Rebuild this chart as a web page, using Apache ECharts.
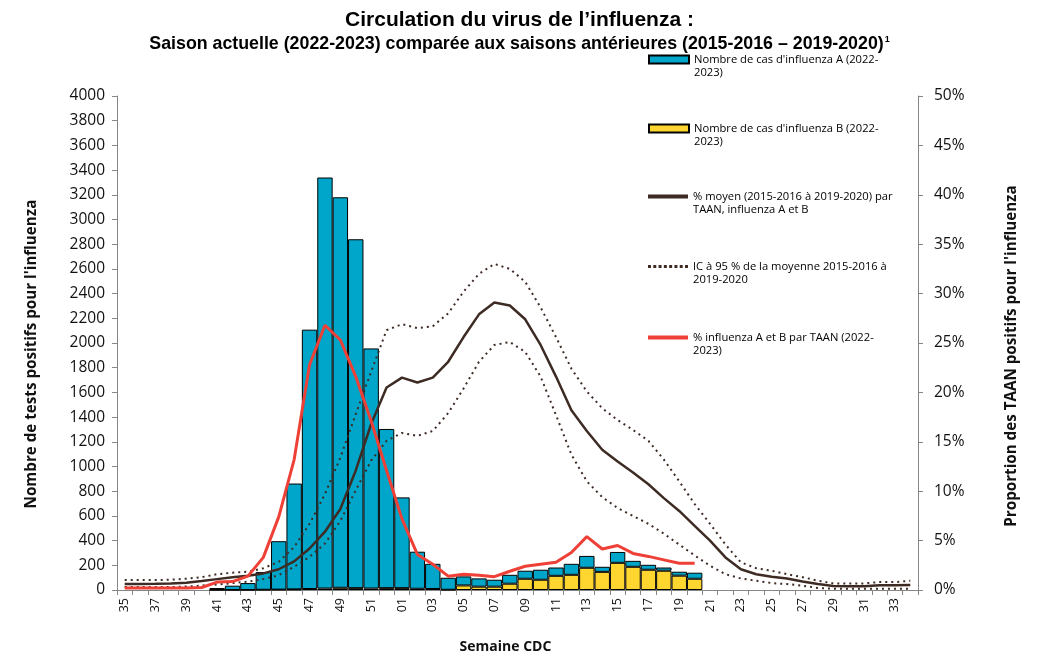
<!DOCTYPE html>
<html>
<head>
<meta charset="utf-8">
<script src="https://cdn.jsdelivr.net/npm/echarts@6/dist/echarts.min.js"></script>
<style>
html,body{margin:0;padding:0;background:#fff;}
#c{width:1039px;height:659px;}
</style>
</head>
<body>
<div id="c"></div>
<script>
// Weeks (CDC)
const weeks = ['35','36','37','38','39','40','41','42','43','44','45','46','47','48','49','50','51','52',
  '01','02','03','04','05','06','07','08','09','10','11','12','13','14','15','16','17','18','19','20',
  '21','22','23','24','25','26','27','28','29','30','31','32','33','34'];

// Influenza B cases (2022-2023)
const casesB = [null,null,null,null,null,null,0,0,0,2,3,5,8,12,18,15,12,15,
  15,10,8,2,37,27,27,51,91,83,115,123,180,147,220,188,164,156,116,91,
  null,null,null,null,null,null,null,null,null,null,null,null,null,null];

// Influenza A cases (2022-2023)
const casesA = [null,null,null,null,null,null,16,35,56,143,392,857,2100,3328,3162,2825,1944,1289,
  735,300,204,97,73,67,56,72,65,81,67,89,96,41,88,48,40,26,32,49,
  null,null,null,null,null,null,null,null,null,null,null,null,null,null];

// Mean % positive 2015-2016 to 2019-2020
const meanPct = [0.6,0.6,0.62,0.65,0.74,0.9,1.1,1.3,1.45,1.68,2.1,2.9,4.2,5.9,8.2,12.1,16.8,20.5,
  21.5,21.0,21.5,23.1,25.6,27.9,29.1,28.8,27.4,24.8,21.6,18.2,16.1,14.2,13.0,11.9,10.7,9.3,8.0,6.5,
  5.0,3.3,2.1,1.6,1.35,1.17,0.87,0.6,0.4,0.37,0.37,0.47,0.47,0.5];

// 95% CI upper
const ciUpper = [1.0,1.0,1.0,1.05,1.15,1.3,1.6,1.75,1.85,2.2,2.85,4.35,6.7,9.7,13.4,17.8,22.1,26.3,
  26.9,26.5,26.7,28.0,30.2,32.0,33.0,32.5,31.2,28.6,25.6,22.4,20.1,18.4,17.2,16.2,15.1,13.2,11.0,8.7,
  6.7,4.6,2.8,2.2,1.95,1.6,1.3,0.94,0.67,0.67,0.67,0.8,0.8,0.94];

// 95% CI lower
const ciLower = [0.3,0.3,0.3,0.3,0.35,0.45,0.55,0.7,0.85,1.1,1.5,2.35,3.35,4.7,7.0,10.1,13.1,15.1,
  15.9,15.6,16.1,17.9,20.4,23.1,24.8,25.1,24.1,21.6,17.7,13.7,11.0,9.4,8.3,7.5,6.7,5.7,4.6,3.5,
  2.45,1.6,1.17,0.94,0.7,0.6,0.44,0.2,0.13,0.13,0.13,0.13,0.13,0.13];

// % positive influenza A and B (2022-2023)
const currentPct = [0.2,0.2,0.2,0.2,0.2,0.25,0.8,0.85,1.4,3.3,7.4,13.2,22.8,26.8,25.3,21.6,17.1,12.1,
  7.2,3.6,2.6,1.4,1.6,1.5,1.35,1.9,2.4,2.6,2.8,3.8,5.4,4.15,4.5,3.7,3.4,3.05,2.7,2.7,
  null,null,null,null,null,null,null,null,null,null,null,null,null,null];

const nameA = "Nombre de cas d'influenza A (2022-2023)";
const nameB = "Nombre de cas d'influenza B (2022-2023)";
const nameMean = "% moyen (2015-2016 à 2019-2020) par TAAN, influenza A et B";
const nameCI = "IC à 95 % de la moyenne 2015-2016 à 2019-2020";
const nameCur = "% influenza A et B par TAAN (2022-2023)";
const legendText = {};
legendText[nameA] = "Nombre de cas d'influenza A (2022-\n2023)";
legendText[nameB] = "Nombre de cas d'influenza B (2022-\n2023)";
legendText[nameMean] = "% moyen (2015-2016 à 2019-2020) par\nTAAN, influenza A et B";
legendText[nameCI] = "IC à 95 % de la moyenne 2015-2016 à\n2019-2020";
legendText[nameCur] = "% influenza A et B par TAAN (2022-\n2023)";

const FONT = 'Open Sans';
const BROWN = '#3d2b24';
const BLUE = '#00a6c9';
const YELLOW = '#ffd530';
const RED = '#ee4037';

const solidIcon = 'path://M0,0L40,0L40,4L0,4Z';
let dotPath = 'path://';
for (let i = 0; i < 8; i++) {
  const x0 = (i * 5.3).toFixed(1);
  dotPath += 'M' + x0 + ',0h3v3h-3z';
}

function mkLegend(item, iconH, top) {
  return {
    data: [item],
    left: 648,
    top: top,
    padding: 0,
    orient: 'vertical',
    itemWidth: 40,
    itemHeight: iconH,
    selectedMode: false,
    // leading empty line so that the first text line sits level with the icon
    formatter: function (n) { return ' \n' + legendText[n]; },
    textStyle: { fontFamily: FONT, fontSize: 11.2, color: '#000', lineHeight: 13 }
  };
}

const chart = echarts.init(document.getElementById('c'), null, { renderer: 'canvas' });
chart.setOption({
  animation: false,
  backgroundColor: '#fff',
  title: {
    text: 'Circulation du virus de l’influenza :',
    subtext: 'Saison actuelle (2022-2023) comparée aux saisons antérieures (2015-2016 – 2019-2020){s|1}',
    left: 'center',
    top: 5,
    itemGap: 4,
    textStyle: { fontFamily: 'Liberation Sans', fontWeight: 'bold', fontSize: 21, color: '#000' },
    subtextStyle: {
      fontFamily: 'Liberation Sans', fontWeight: 'bold', fontSize: 17.8, color: '#000',
      rich: { s: { fontFamily: 'Liberation Sans', fontSize: 9, color: '#000', padding: [0, 0, 8, 1] } }
    }
  },
  legend: [
    mkLegend({ name: nameA, icon: 'rect' }, 8, 40),
    mkLegend({ name: nameB, icon: 'rect' }, 8, 109),
    mkLegend({ name: nameMean, icon: solidIcon, itemStyle: { color: BROWN, borderWidth: 0 } }, 4, 177),
    mkLegend({ name: nameCI, icon: dotPath, itemStyle: { color: BROWN, borderWidth: 0 } }, 3, 247),
    mkLegend({ name: nameCur, icon: solidIcon, itemStyle: { color: RED, borderWidth: 0 } }, 4, 318)
  ],
  grid: { left: 117, right: 121, top: 96, bottom: 66, containLabel: false },
  xAxis: {
    type: 'category',
    data: weeks,
    boundaryGap: true,
    name: 'Semaine CDC',
    nameLocation: 'middle',
    nameGap: 50,
    nameTextStyle: { fontFamily: FONT, fontWeight: 'bold', fontSize: 14, color: '#111', padding: [0, 24, 0, 0] },
    axisLine: { lineStyle: { color: '#868686', width: 1 } },
    axisTick: { show: true, interval: 0, length: 5, lineStyle: { color: '#868686' } },
    axisLabel: { interval: 1, rotate: 90, fontFamily: FONT, fontSize: 12.5, color: '#111', margin: 8 },
    splitLine: { show: false }
  },
  yAxis: [
    {
      type: 'value', min: 0, max: 4000, interval: 200,
      name: "Nombre de tests positifs pour l'influenza",
      nameLocation: 'middle', nameRotate: 90, nameGap: 78,
      nameTextStyle: { fontFamily: FONT, fontWeight: 'bold', fontSize: 15.2, color: '#111', padding: [0, 22, 0, 0] },
      axisLine: { show: true, lineStyle: { color: '#868686' } },
      axisTick: { show: true, length: 5, lineStyle: { color: '#868686' } },
      axisLabel: { fontFamily: FONT, fontSize: 15.5, color: '#111', margin: 12, formatter: function (v) { return String(v); } },
      splitLine: { show: false }
    },
    {
      type: 'value', min: 0, max: 50, interval: 5,
      name: "Proportion des TAAN positifs pour l'influenza",
      nameLocation: 'middle', nameRotate: 90, nameGap: 86,
      nameTextStyle: { fontFamily: FONT, fontWeight: 'bold', fontSize: 15.2, color: '#111', padding: [0, 26, 0, 0] },
      axisLine: { show: true, lineStyle: { color: '#868686' } },
      axisTick: { show: true, length: 5, lineStyle: { color: '#868686' } },
      axisLabel: { fontFamily: FONT, fontSize: 15.5, color: '#111', margin: 16, formatter: '{value}%' },
      splitLine: { show: false }
    }
  ],
  series: [
    {
      name: nameB, type: 'bar', stack: 'cas', yAxisIndex: 0,
      data: casesB, barCategoryGap: '0%',
      itemStyle: { color: YELLOW, borderColor: '#000', borderWidth: 1 }
    },
    {
      name: nameA, type: 'bar', stack: 'cas', yAxisIndex: 0,
      data: casesA, barCategoryGap: '0%',
      itemStyle: { color: BLUE, borderColor: '#000', borderWidth: 1 }
    },
    {
      name: nameCI, type: 'line', yAxisIndex: 1, data: ciUpper,
      symbol: 'none', showSymbol: false, z: 3,
      lineStyle: { color: BROWN, width: 2, type: [2, 4] },
      itemStyle: { color: BROWN }
    },
    {
      name: nameCI, type: 'line', yAxisIndex: 1, data: ciLower,
      symbol: 'none', showSymbol: false, z: 3,
      lineStyle: { color: BROWN, width: 2, type: [2, 4] },
      itemStyle: { color: BROWN }
    },
    {
      name: nameMean, type: 'line', yAxisIndex: 1, data: meanPct,
      symbol: 'none', showSymbol: false, z: 4,
      lineStyle: { color: BROWN, width: 2.5 },
      itemStyle: { color: BROWN }
    },
    {
      name: nameCur, type: 'line', yAxisIndex: 1, data: currentPct,
      symbol: 'none', showSymbol: false, z: 5,
      lineStyle: { color: RED, width: 3 },
      itemStyle: { color: RED }
    }
  ]
});
</script>
</body>
</html>
